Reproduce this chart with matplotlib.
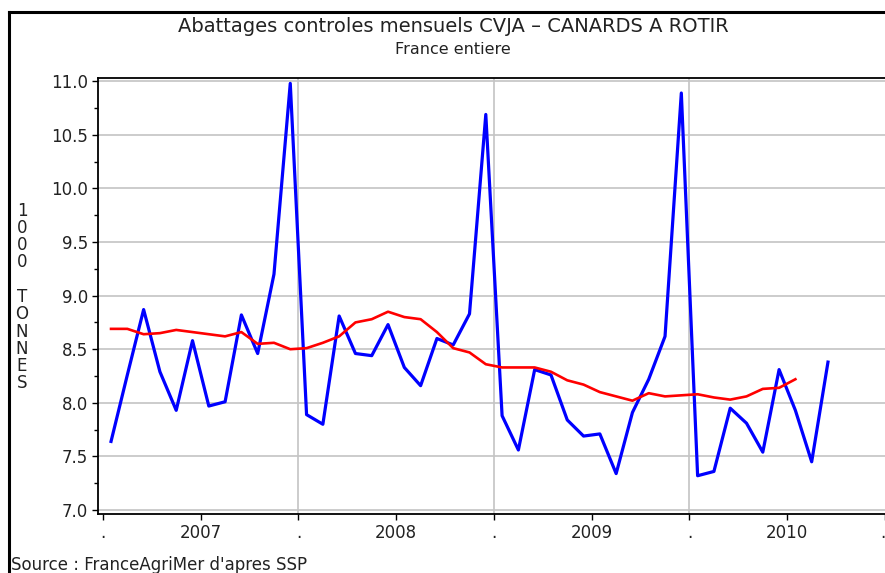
import numpy as np
import matplotlib
matplotlib.use('Agg')
import matplotlib.pyplot as plt
from matplotlib.lines import Line2D

# monthly slaughter, 1000 tonnes, jan 2007 -> sep 2010
months = np.arange(45)
abattages = [7.64, 8.26, 8.87, 8.29, 7.93, 8.58, 7.97, 8.01, 8.82, 8.46, 9.20, 10.98,
             7.89, 7.80, 8.81, 8.46, 8.44, 8.73, 8.33, 8.16, 8.60, 8.54, 8.83, 10.69,
             7.88, 7.56, 8.31, 8.26, 7.84, 7.69, 7.71, 7.34, 7.91, 8.22, 8.62, 10.89,
             7.32, 7.36, 7.95, 7.81, 7.54, 8.31, 7.93, 7.45, 8.38]
# moyenne mobile (red line), stops at jul 2010
moyenne = [8.69, 8.69, 8.64, 8.65, 8.68, 8.66, 8.64, 8.62, 8.66, 8.55, 8.56, 8.50,
           8.51, 8.56, 8.62, 8.75, 8.78, 8.85, 8.80, 8.78, 8.66, 8.51, 8.47, 8.36,
           8.33, 8.33, 8.33, 8.29, 8.21, 8.17, 8.10, 8.06, 8.02, 8.09, 8.06, 8.07,
           8.08, 8.05, 8.03, 8.06, 8.13, 8.14, 8.22]
years = ['2007', '2008', '2009', '2010']
ylabel = '1000 TONNES'

txt = '#222222'

fig = plt.figure(figsize=(8.85, 5.73), dpi=100)
ax = fig.add_axes([98/885, 59/573, 1 - 98/885, 436/573])

ax.plot(months, abattages, color='#0000ff', lw=2.3, solid_joinstyle='round', zorder=3)
ax.plot(months[:len(moyenne)], moyenne, color='#ff0000', lw=1.9, zorder=4)

ax.set_xlim(-0.8, 47.5)
ax.set_ylim(6.963, 11.03)

# y axis
ax.set_yticks(np.arange(7.0, 11.01, 0.5))
ax.set_yticklabels(['%.1f' % v for v in np.arange(7.0, 11.01, 0.5)], fontsize=12, color=txt)
ax.set_yticks(np.arange(7.25, 11.0, 0.5), minor=True)
ax.yaxis.grid(True, which='major', color='#c4c4c4', lw=1.2)

# x axis : year boundaries with '.', mid year with the year
bounds = np.arange(-0.5, 48, 12)
mids = bounds[:-1] + 6
ticks = list(bounds) + list(mids)
labels = ['.'] * len(bounds) + years
ax.set_xticks(ticks)
ax.set_xticklabels(labels, fontsize=12, color=txt)
# last dot sits on the right edge
ax.get_xticklabels()[len(bounds) - 1].set_horizontalalignment('right')
for b in bounds[1:-1]:
    ax.axvline(b, color='#c4c4c4', lw=1.2, zorder=1)

ax.tick_params(axis='both', which='both', direction='out', length=4, width=1, colors='black', pad=3)
ax.tick_params(axis='y', which='minor', length=3)
for lab in ax.get_xticklabels() + ax.get_yticklabels():
    lab.set_color(txt)
ax.spines['right'].set_visible(False)
for s in ['left', 'bottom', 'top']:
    ax.spines[s].set_linewidth(1.3)

# titles
fig.text(0.512, 1 - 26/573, 'Abattages controles mensuels CVJA – CANARDS A ROTIR',
         ha='center', va='center', fontsize=14, color=txt)
fig.text(0.512, 1 - 49/573, 'France entiere', ha='center', va='center', fontsize=11.5, color=txt)

# stacked vertical label
fig.text(22/885, 1 - 297/573, '\n'.join(ylabel), ha='center', va='center',
         fontsize=12, linespacing=0.95, color=txt)

fig.text(11/885, 1 - 565/573, "Source : FranceAgriMer d'apres SSP", ha='left', va='center',
         fontsize=12, color=txt)

# outer frame, top and left only
fig.add_artist(Line2D([9/885, 1], [1 - 12/573, 1 - 12/573], color='black', lw=2.2, transform=fig.transFigure))
fig.add_artist(Line2D([9/885, 9/885], [0, 1 - 12/573], color='black', lw=2.2, transform=fig.transFigure))

fig.savefig('out.png', dpi=100)
